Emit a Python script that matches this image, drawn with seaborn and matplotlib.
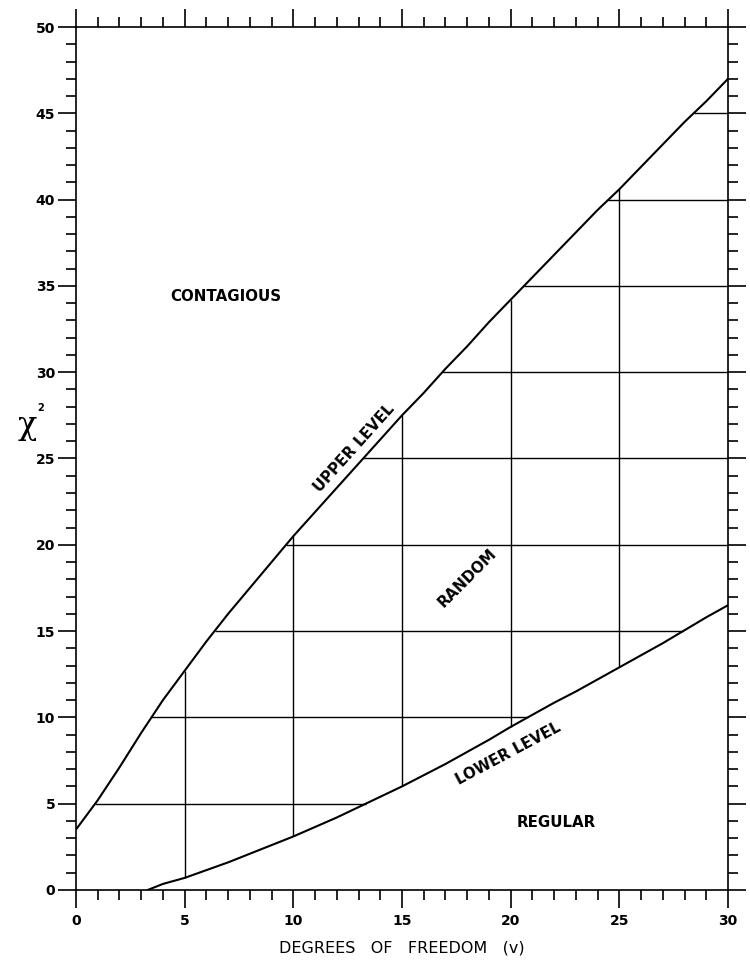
import numpy as np
import pandas as pd
import matplotlib.pyplot as plt
import seaborn as sns
from matplotlib.ticker import MultipleLocator

# valores
dof_upper = [0, 1, 2, 3, 4, 5, 6, 7, 8, 9, 10, 11, 12, 13, 14, 15,
             16, 17, 18, 19, 20, 21, 22, 23, 24, 25, 26, 27, 28, 29, 30]
chi_upper = [3.5, 5.2, 7.1, 9.1, 11.0, 12.7, 14.4, 16.0, 17.5, 19.0, 20.5,
             21.9, 23.3, 24.7, 26.1, 27.5, 28.8, 30.2, 31.5, 32.9, 34.2,
             35.5, 36.8, 38.1, 39.4, 40.6, 41.9, 43.2, 44.5, 45.7, 47.0]
dof_lower = [3.3, 4, 5, 6, 7, 8, 9, 10, 11, 12, 13, 14, 15, 16, 17, 18,
             19, 20, 21, 22, 23, 24, 25, 26, 27, 28, 29, 30]
chi_lower = [0.0, 0.35, 0.7, 1.15, 1.6, 2.1, 2.6, 3.1, 3.65, 4.2, 4.8, 5.4,
             6.0, 6.65, 7.3, 8.0, 8.7, 9.45, 10.15, 10.85, 11.5, 12.2, 12.9,
             13.6, 14.3, 15.05, 15.8, 16.5]
grid_chi = [5, 10, 15, 20, 25, 30, 35, 40, 45]
grid_dof = [5, 10, 15, 20, 25]
x_ticks = [0, 5, 10, 15, 20, 25, 30]
y_ticks = [0, 5, 10, 15, 20, 25, 30, 35, 40, 45, 50]

regions = ["CONTAGIOUS", "UPPER LEVEL", "RANDOM", "LOWER LEVEL", "REGULAR"]

upper = pd.DataFrame({"v": dof_upper, "chi2": chi_upper})
lower = pd.DataFrame({"v": dof_lower, "chi2": chi_lower})

sns.set_style("ticks")
plt.rcParams['font.family'] = ['DejaVu Sans']
plt.rcParams['text.color'] = 'black'
plt.rcParams['axes.labelcolor'] = 'black'
plt.rcParams['xtick.color'] = 'black'
plt.rcParams['ytick.color'] = 'black'

fig = plt.figure(figsize=(7.5, 9.68), dpi=100)
ax = fig.add_axes([0.1013, 0.0806, 0.8694, 0.8915])

sns.lineplot(data=upper, x="v", y="chi2", ax=ax, color="black", linewidth=1.5)
sns.lineplot(data=lower, x="v", y="chi2", ax=ax, color="black", linewidth=1.5)

# grade só dentro da faixa aleatória
for y in grid_chi:
    x0 = np.interp(y, chi_upper, dof_upper)
    x1 = np.interp(y, chi_lower, dof_lower) if y <= max(chi_lower) else 30
    ax.hlines(y, x0, x1, color="black", linewidth=1.0)
for x in grid_dof:
    y0 = np.interp(x, dof_lower, chi_lower)
    y1 = np.interp(x, dof_upper, chi_upper)
    ax.vlines(x, y0, y1, color="black", linewidth=1.0)

ax.set_xlim(0, 30)
ax.set_ylim(0, 50)
ax.set_xticks(x_ticks)
ax.set_yticks(y_ticks)
ax.xaxis.set_minor_locator(MultipleLocator(1))
ax.yaxis.set_minor_locator(MultipleLocator(1))
ax.tick_params(which="both", direction="out", top=True, right=True,
               labeltop=False, labelright=False, color="black", width=1.2)
ax.tick_params(which="major", length=13, labelsize=10, labelcolor="black")
ax.tick_params(axis="y", which="major", pad=2)
ax.tick_params(axis="x", which="major", pad=4)
ax.tick_params(which="minor", length=7)
for lab in ax.get_xticklabels() + ax.get_yticklabels():
    lab.set_fontweight("bold")
for s in ax.spines.values():
    s.set_visible(True)
    s.set_linewidth(1.2)
    s.set_color("black")

ax.set_xlabel("DEGREES   OF   FREEDOM   (v)", fontsize=11.5, labelpad=9)
ax.set_ylabel("")
fig.text(0.036, 0.56, "χ", fontsize=23, family="DejaVu Serif",
         ha="center", va="center")
fig.text(0.054, 0.579, "2", fontsize=7, fontweight="bold",
         ha="center", va="center")

kw = dict(fontsize=10.8, fontweight="bold", ha="center", va="center",
          color="black")
ax.text(6.9, 34.4, regions[0], **kw)
ax.text(12.8, 25.6, regions[1], rotation=48, **kw)
ax.text(18.0, 18.1, regions[2], rotation=45, **kw)
ax.text(19.9, 7.9, regions[3], rotation=28, **kw)
ax.text(22.1, 3.9, regions[4], **kw)

plt.savefig("out.png", dpi=100)
